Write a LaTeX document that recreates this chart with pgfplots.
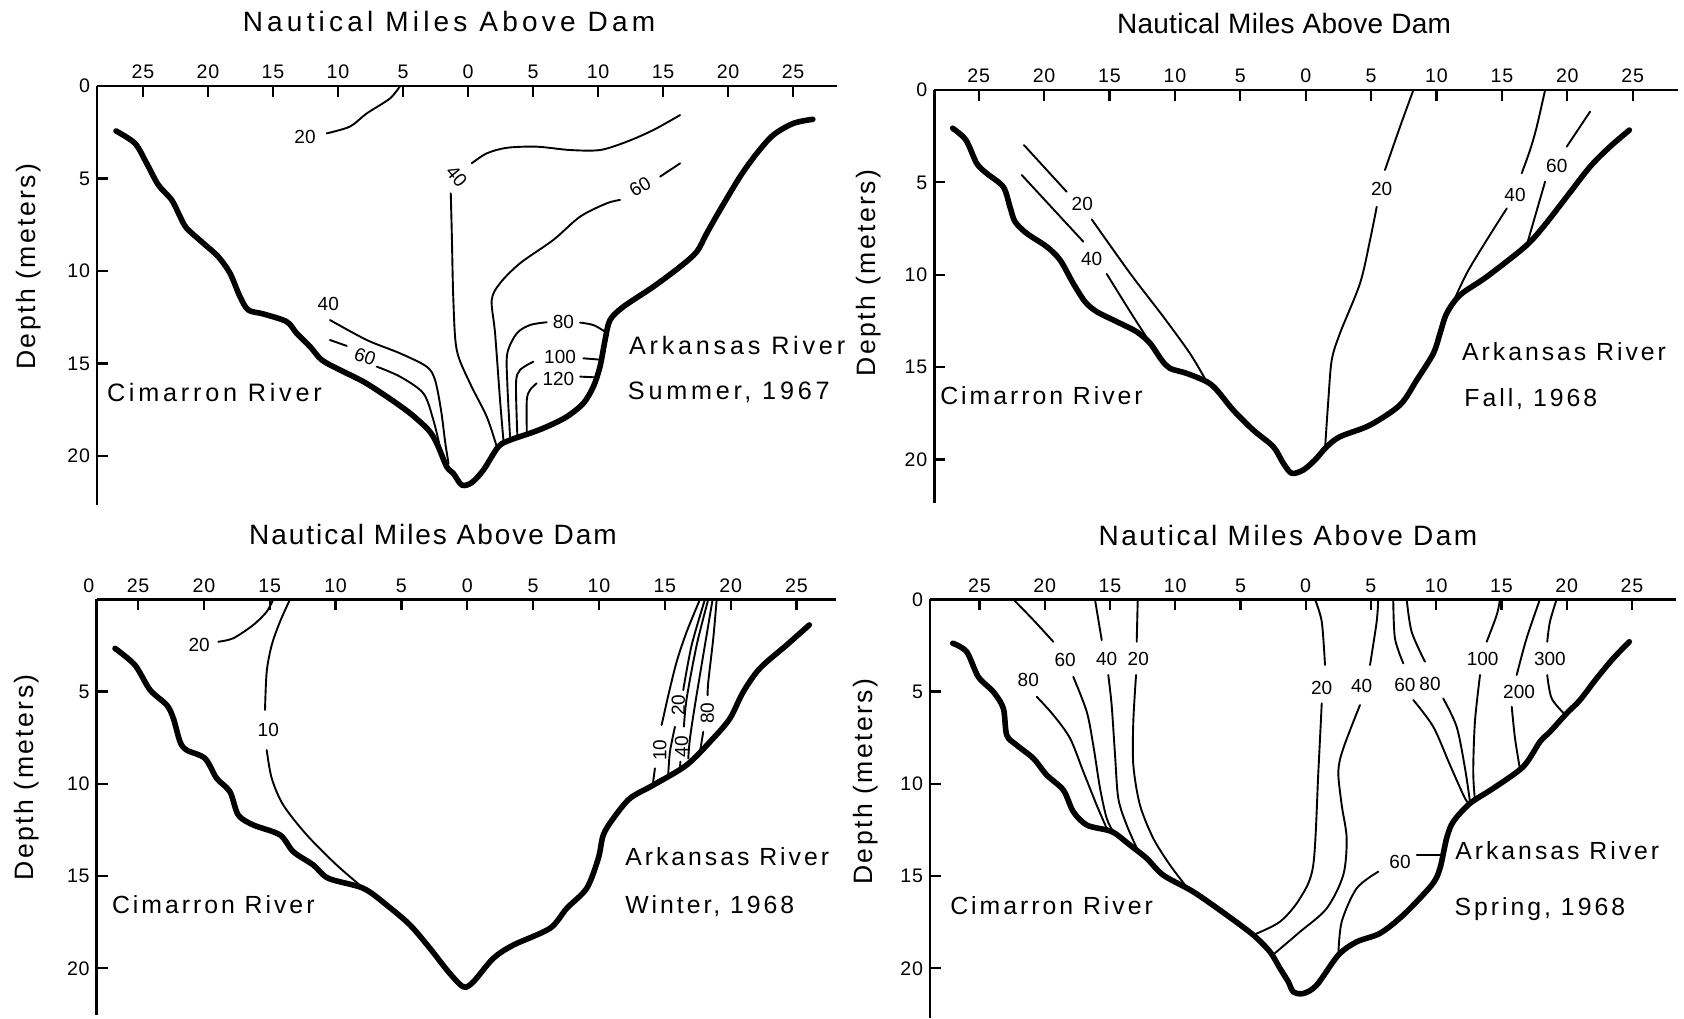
\documentclass[border=0pt]{standalone}
\usepackage{pgfplots}
\pgfplotsset{compat=1.18}
\usepackage{fontspec}
\setmainfont{Liberation Sans}
\newfontfamily\tickfont[LetterSpace=4]{Liberation Sans}
\newfontfamily\riverfont[LetterSpace=12]{Liberation Sans}
\newfontfamily\riverwide[LetterSpace=15]{Liberation Sans}
\newfontfamily\depthfont[LetterSpace=9]{Liberation Sans}
\newfontfamily\titleA[LetterSpace=15]{Liberation Sans}
\newfontfamily\titleB[LetterSpace=1]{Liberation Sans}
\newfontfamily\titleC[LetterSpace=7]{Liberation Sans}
\newfontfamily\titleD[LetterSpace=9]{Liberation Sans}

\pgfplotsset{
  section/.style={
    scale only axis, anchor=north west, clip=false,
    y dir=reverse, ymin=0,
    axis x line=top, axis y line=left,
    axis line style={-, line width=1.3pt},
    tick align=inside, major tick length=5.5pt,
    every tick/.style={black, line width=1.1pt},
    xtick={-25,-20,-15,-10,-5,0,5,10,15,20,25},
    xticklabels={25,20,15,10,5,0,5,10,15,20,25},
    ytick={0,5,10,15,20},
    yticklabels={0,5,10,15,20},
    ticklabel style={font=\tickfont\fontsize{9.8}{10}\selectfont},
  },
  floor/.style={black, line width=2.8pt, smooth, tension=0.5, line join=round, line cap=round},
  iso/.style={black, line width=0.95pt, smooth, tension=0.5, line join=round, line cap=round},
}
\tikzset{
  river/.style={font=\riverfont\fontsize{12.4}{14}\selectfont, anchor=base west, inner sep=0pt},
  riverw/.style={font=\riverwide\fontsize{12.6}{14}\selectfont, anchor=base west, inner sep=0pt},
  clab/.style={font=\fontsize{9.5}{10}\selectfont, inner sep=0.5pt},
}

\begin{document}
\begin{tikzpicture}
\useasboundingbox (0,0) rectangle (842pt,-509pt);

% headings and depth labels
\node[font=\titleA\fontsize{14}{16}\selectfont] at (224.5pt,-10.8pt) {Nautical Miles Above Dam};
\node[font=\titleB\fontsize{14}{16}\selectfont] at (642pt,-11.9pt) {Nautical Miles Above Dam};
\node[font=\titleC\fontsize{14}{16}\selectfont] at (216.5pt,-267pt) {Nautical Miles Above Dam};
\node[font=\titleD\fontsize{14}{16}\selectfont] at (644pt,-267.8pt) {Nautical Miles Above Dam};
\node[font=\depthfont\fontsize{13.3}{15}\selectfont, rotate=90] at (14.5pt,-133.3pt) {Depth (meters)};
\node[font=\depthfont\fontsize{13.3}{15}\selectfont, rotate=90] at (434.5pt,-136.5pt) {Depth (meters)};
\node[font=\depthfont\fontsize{13.3}{15}\selectfont, rotate=90] at (13.5pt,-388.7pt) {Depth (meters)};
\node[font=\depthfont\fontsize{13.3}{15}\selectfont, rotate=90] at (433pt,-390.8pt) {Depth (meters)};

% ---------------- Summer 1967 ----------------
\begin{axis}[section, at={(48.5pt,-43pt)}, width=370pt, height=209.5pt,
  xmin=-28.54, xmax=28.38, ymax=22.65]
\addplot[floor] coordinates {(-27.08,2.43) (-25.62,3.10) (-24.72,4.18) (-23.82,5.35) (-22.79,6.16) (-22.15,7.06) (-21.64,7.69) (-20.36,8.50) (-19.21,9.23) (-18.31,10.12) (-17.54,11.39) (-16.90,12.11) (-15.75,12.32) (-13.95,12.74) (-13.18,13.37) (-12.15,14.09) (-11.25,14.81) (-9.85,15.35) (-8.05,15.98) (-6.25,16.79) (-4.46,17.69) (-3.05,18.59) (-2.41,19.31) (-1.64,20.58) (-1.13,20.94) (-0.48,21.57) (0.28,21.44) (1.18,20.76) (2.33,19.50) (3.23,19.14) (4.77,18.77) (6.05,18.42) (7.59,17.88) (8.87,17.15) (9.64,16.25) (10.15,15.17) (10.54,13.73) (10.92,12.65) (11.95,11.93) (14.25,10.85) (16.31,9.77) (17.59,8.96) (18.36,7.96) (19.38,6.70) (20.92,4.90) (22.21,3.64) (23.48,2.65) (25.02,2.02) (26.52,1.80)};
% 20
\addplot[iso] coordinates {(-10.87,2.56) (-9.08,2.19) (-7.79,1.48) (-6.0,0.67) (-5.23,0)};
\node[clab] at (-12.54,2.74) {20};
% 40 (Cimarron arm)
\addplot[iso] coordinates {(-10.62,12.65) (-7.79,13.73) (-5.23,14.45) (-3.18,15.17) (-2.54,15.89) (-2.08,17.51) (-1.75,19.3) (-1.5,20.4)};
\node[clab] at (-10.75,11.78) {40};
% 60 (Cimarron arm)
\addplot[iso] coordinates {(-10.62,13.73) (-9.33,14.05)};
\node[clab, rotate=-20] at (-7.92,14.63) {60};
\addplot[iso] coordinates {(-7.02,15.17) (-5.23,15.71) (-3.44,16.61) (-2.67,18.05) (-2.1,19.7)};
% 40 (main channel)
\addplot[iso] coordinates {(2.21,19.50) (1.44,17.88) (0.15,16.07) (-0.87,14.27) (-1.13,11.57) (-1.25,7.96) (-1.33,5.80)};
\node[clab, rotate=-50] at (-0.87,4.90) {40};
\addplot[iso] coordinates {(0.28,4.18) (1.44,3.64) (2.98,3.34) (5.28,3.28) (7.85,3.46) (10.15,3.46) (12.21,3.01) (14.25,2.38) (16.31,1.57)};
% 60
\addplot[iso] coordinates {(2.72,19.14) (2.46,16.97) (2.08,13.37) (1.82,11.57) (2.46,10.66) (4.0,9.58) (6.56,8.32) (8.62,7.06) (10.67,6.34) (11.69,6.16)};
\node[clab, rotate=30] at (13.23,5.44) {60};
\addplot[iso] coordinates {(14.77,4.90) (16.31,4.18)};
% 80
\addplot[iso] coordinates {(3.23,18.96) (3.02,16.07) (3.02,14.45) (3.75,13.37) (4.77,12.92) (6.05,12.77)};
\node[clab] at (7.33,12.74) {80};
\addplot[iso] coordinates {(8.62,12.79) (9.64,12.92) (10.54,13.28)};
% 100
\addplot[iso] coordinates {(3.79,18.86) (3.69,16.07) (4.0,15.35) (5.02,14.90)};
\node[clab] at (7.08,14.66) {100};
\addplot[iso] coordinates {(8.87,14.72) (10.3,14.8)};
% 120
\addplot[iso] coordinates {(4.52,18.77) (4.52,16.97) (4.77,16.43) (5.28,16.07)};
\node[clab] at (6.95,15.85) {120};
\addplot[iso] coordinates {(8.62,15.71) (9.85,15.75)};
\node[riverw] at (-27.8,17.03) {Cimarron River};
\node[riverw] at (12.35,14.54) {Arkansas River};
\node[riverw] at (12.27,16.97) {Summer, 1967};
\end{axis}

% ---------------- Fall 1968 ----------------
\begin{axis}[section, at={(467.15pt,-45pt)}, width=371.85pt, height=206.5pt,
  xmin=-28.39, xmax=28.46, ymax=22.36]
\addplot[floor] coordinates {(-26.99,2.07) (-25.97,2.71) (-25.15,3.97) (-24.39,4.51) (-23.12,5.24) (-22.61,6.32) (-22.22,7.13) (-21.33,7.76) (-19.80,8.48) (-18.78,9.20) (-17.77,10.47) (-16.87,11.46) (-15.98,12.00) (-14.45,12.54) (-12.92,13.09) (-11.90,13.71) (-11.01,14.62) (-10.37,15.07) (-9.10,15.34) (-7.57,15.79) (-6.80,16.24) (-5.54,17.33) (-4.01,18.41) (-2.48,19.31) (-1.71,20.21) (-1.07,20.75) (-0.18,20.57) (0.71,20.03) (1.61,19.31) (2.62,18.77) (4.92,18.14) (7.21,17.05) (8.49,15.70) (9.76,14.26) (10.27,13.17) (10.78,12.09) (11.80,11.10) (13.84,10.11) (16.77,8.48) (18.17,7.40) (19.95,5.78) (21.74,4.15) (23.26,3.07) (24.74,2.17)};
% 20 (Cimarron arm)
\addplot[iso] coordinates {(-21.54,2.98) (-18.27,5.51)};
\node[clab] at (-17.08,6.17) {20};
\addplot[iso] coordinates {(-16.36,7.0) (-13.43,9.92) (-10.89,12.27) (-8.85,14.26) (-7.57,15.79)};
% 40 (Cimarron arm)
\addplot[iso] coordinates {(-21.71,4.60) (-17.0,8.21)};
\node[clab] at (-16.36,9.17) {40};
\addplot[iso] coordinates {(-15.21,9.96) (-13.18,12.27) (-11.6,14.0)};
% 20 (main channel)
\addplot[iso] coordinates {(8.23,0) (7.21,1.99) (6.06,4.33)};
\node[clab] at (5.81,5.38) {20};
\addplot[iso] coordinates {(5.43,6.32) (4.92,8.12) (4.15,10.47) (2.62,13.17) (1.99,14.62) (1.73,16.78) (1.48,19.4)};
% 40
\addplot[iso] coordinates {(18.30,0) (17.66,1.99) (17.15,3.25) (16.51,4.51)};
\node[clab] at (16.0,5.68) {40};
\addplot[iso] coordinates {(15.37,6.41) (13.84,8.12) (12.31,9.92) (11.2,11.6)};
% 60
\addplot[iso] coordinates {(21.74,1.17) (19.95,3.07)};
\node[clab] at (19.19,4.10) {60};
\addplot[iso] coordinates {(18.30,4.96) (16.90,8.39)};
\node[river] at (-27.96,17.05) {Cimarron River};
\node[river] at (11.93,14.62) {Arkansas River};
\node[river] at (12.1,17.15) {Fall, 1968};
\end{axis}

% ---------------- Winter 1968 ----------------
\begin{axis}[section, at={(48.35pt,-299.65pt)}, width=369.65pt, height=207.85pt,
  xmin=-28.14, xmax=28.0, ymax=22.53,
  yticklabels={,5,10,15,20},
  extra x ticks={-28.14}, extra x tick labels={0},
  extra x tick style={major tick length=0pt, xticklabel style={xshift=-4pt}}]
\addplot[floor] coordinates {(-26.75,2.66) (-25.24,3.56) (-24.09,4.91) (-22.82,5.73) (-22.32,6.45) (-21.81,7.72) (-21.31,8.17) (-19.92,8.62) (-19.03,9.70) (-18.02,10.43) (-17.39,11.69) (-16.25,12.23) (-14.22,12.77) (-13.21,13.68) (-11.69,14.40) (-10.55,15.12) (-7.90,15.66) (-6.12,16.57) (-4.35,17.65) (-2.83,18.92) (-1.44,20.18) (-0.30,21.0) (0.46,20.73) (1.97,19.46) (3.49,18.74) (6.28,17.83) (7.55,16.75) (9.07,15.66) (9.95,14.04) (10.33,12.77) (11.09,11.87) (12.35,10.79) (14.12,10.07) (16.66,8.98) (18.68,7.53) (19.95,6.45) (20.96,5.01) (22.22,3.74) (24.25,2.48) (25.97,1.39)};
% 20
\addplot[iso] coordinates {(-18.91,2.30) (-17.77,2.11) (-16.25,1.39) (-15.23,0.67) (-14.73,0)};
\node[clab] at (-20.36,2.48) {20};
% 10
\addplot[iso] coordinates {(-13.46,0) (-14.22,1.21) (-14.85,2.48) (-15.23,3.92) (-15.36,6.0)};
\node[clab] at (-15.11,7.08) {10};
\addplot[iso] coordinates {(-15.23,8.17) (-14.85,9.70) (-13.97,11.15) (-12.19,12.77) (-9.92,14.40) (-7.77,15.72)};
% Arkansas arm
\addplot[iso] coordinates {(17.67,0) (16.66,1.76) (15.90,3.38) (15.27,5.19) (14.76,6.81)};
\node[clab, rotate=90] at (14.63,8.17) {10};
\addplot[iso] coordinates {(14.25,9.16) (14.08,10.07)};
\addplot[iso] coordinates {(18.05,0) (17.04,2.48) (16.40,4.92)};
\node[clab, rotate=90] at (16.02,5.73) {20};
\addplot[iso] coordinates {(15.77,6.91) (15.39,8.26) (15.26,9.52)};
\addplot[iso] coordinates {(18.30,0) (17.42,2.48) (16.66,5.37) (16.45,6.9)};
\node[clab, rotate=90] at (16.28,7.99) {40};
\addplot[iso] coordinates {(16.18,8.8) (16.15,9.16)};
\addplot[iso] coordinates {(18.63,0) (17.92,3.02) (17.29,5.73) (16.91,7.53) (16.78,8.62)};
\addplot[iso] coordinates {(18.94,0) (18.68,2.11) (18.30,4.47) (18.25,5.2)};
\node[clab, rotate=90] at (18.22,6.18) {80};
\addplot[iso] coordinates {(17.92,7.18) (17.67,8.26)};
\node[river] at (-27.0,17.02) {Cimarron River};
\node[river] at (11.97,14.40) {Arkansas River};
\node[river] at (11.97,17.02) {Winter, 1968};
\end{axis}

% ---------------- Spring 1968 ----------------
\begin{axis}[section, at={(465pt,-299.65pt)}, width=373pt, height=209.35pt,
  xmin=-28.79, xmax=28.38, ymax=22.69]
\addplot[floor] coordinates {(-27.05,2.38) (-25.98,2.84) (-25.09,4.20) (-23.94,5.01) (-23.17,5.91) (-22.91,7.36) (-22.15,7.90) (-20.87,8.62) (-19.85,9.52) (-18.57,10.34) (-17.81,11.51) (-16.78,12.23) (-15.25,12.50) (-14.61,12.68) (-13.46,13.32) (-12.18,14.04) (-10.91,14.95) (-8.61,15.85) (-6.05,17.11) (-4.02,18.19) (-2.74,19.10) (-1.97,20.0) (-1.33,20.73) (-0.95,21.27) (-0.18,21.36) (0.84,20.91) (2.50,19.28) (3.91,18.56) (5.69,18.10) (7.48,17.11) (9.66,15.48) (10.29,14.58) (10.80,12.95) (11.31,12.05) (12.59,11.06) (14.38,10.24) (16.67,9.07) (17.95,7.72) (18.72,7.18) (20.0,6.18) (21.02,5.46) (22.30,4.28) (23.57,3.20) (24.80,2.30)};
% Cimarron arm
\addplot[iso] coordinates {(-20.61,5.28) (-19.34,6.27) (-18.06,7.53) (-17.04,9.34) (-16.02,11.15) (-15.25,12.41)};
\node[clab] at (-21.26,4.37) {80};
\addplot[iso] coordinates {(-22.41,0) (-20.87,1.12) (-19.34,2.30)};
\node[clab] at (-18.44,3.29) {60};
\addplot[iso] coordinates {(-17.81,4.20) (-16.78,6.09) (-16.28,7.90) (-15.76,10.24) (-15.25,11.87) (-14.74,12.60)};
\addplot[iso] coordinates {(-16.15,0) (-15.63,2.21)};
\node[clab] at (-15.25,3.24) {40};
\addplot[iso] coordinates {(-15.13,4.10) (-14.87,5.73) (-14.61,8.44) (-14.36,10.79) (-13.72,12.23) (-12.9,13.55)};
\addplot[iso] coordinates {(-12.87,0) (-12.95,2.30)};
\node[clab] at (-12.83,3.24) {20};
\addplot[iso] coordinates {(-13.0,4.10) (-13.21,6.63) (-13.21,8.98) (-12.70,11.15) (-11.68,12.95) (-10.40,14.40) (-9.0,15.7)};
% main channel
\addplot[iso] coordinates {(0.71,0) (1.23,1.21) (1.48,3.56)};
\node[clab] at (1.23,4.82) {20};
\addplot[iso] coordinates {(1.23,5.64) (0.97,9.34) (0.58,14.40) (-0.44,16.21) (-1.97,17.47) (-4.02,18.19)};
\addplot[iso] coordinates {(5.56,0) (5.44,1.21) (4.93,3.56)};
\node[clab] at (4.29,4.70) {40};
\addplot[iso] coordinates {(4.16,5.73) (2.88,8.08) (2.50,9.34) (2.76,11.15) (3.14,12.95) (2.88,14.94) (1.61,16.75) (-0.44,18.02) (-2.4,19.2)};
\addplot[iso] coordinates {(2.50,19.28) (2.76,17.47) (3.91,15.66) (5.56,14.76)};
\node[clab] at (7.23,14.22) {60};
\addplot[iso] coordinates {(8.51,13.86) (10.42,13.86)};
% Arkansas arm
\addplot[iso] coordinates {(6.71,0) (6.84,2.11) (7.48,3.47)};
\node[clab] at (7.61,4.64) {60};
\addplot[iso] coordinates {(8.25,5.46) (9.78,6.91) (11.06,8.98) (12.21,10.79) (12.59,11.06)};
\addplot[iso] coordinates {(7.74,0) (8.12,1.76) (9.14,3.38)};
\node[clab] at (9.53,4.61) {80};
\addplot[iso] coordinates {(10.54,5.37) (11.57,6.91) (12.21,9.16) (12.59,10.97)};
\addplot[iso] coordinates {(14.89,0) (14.64,0.85) (13.87,2.30)};
\node[clab] at (13.56,3.24) {100};
\addplot[iso] coordinates {(13.36,4.10) (12.97,6.63) (12.84,9.34) (12.97,10.89)};
\addplot[iso] coordinates {(17.95,0) (16.93,2.11) (16.17,4.10)};
\node[clab] at (16.35,5.01) {200};
\addplot[iso] coordinates {(15.79,5.82) (16.04,7.53) (16.42,9.2)};
\addplot[iso] coordinates {(19.23,0) (18.72,1.21) (18.51,2.30)};
\node[clab] at (18.72,3.24) {300};
\addplot[iso] coordinates {(18.51,4.10) (18.85,5.37) (19.87,6.24)};
\node[river] at (-27.26,17.07) {Cimarron River};
\node[river] at (11.44,14.08) {Arkansas River};
\node[river] at (11.39,17.11) {Spring, 1968};
\end{axis}
\end{tikzpicture}
\end{document}
